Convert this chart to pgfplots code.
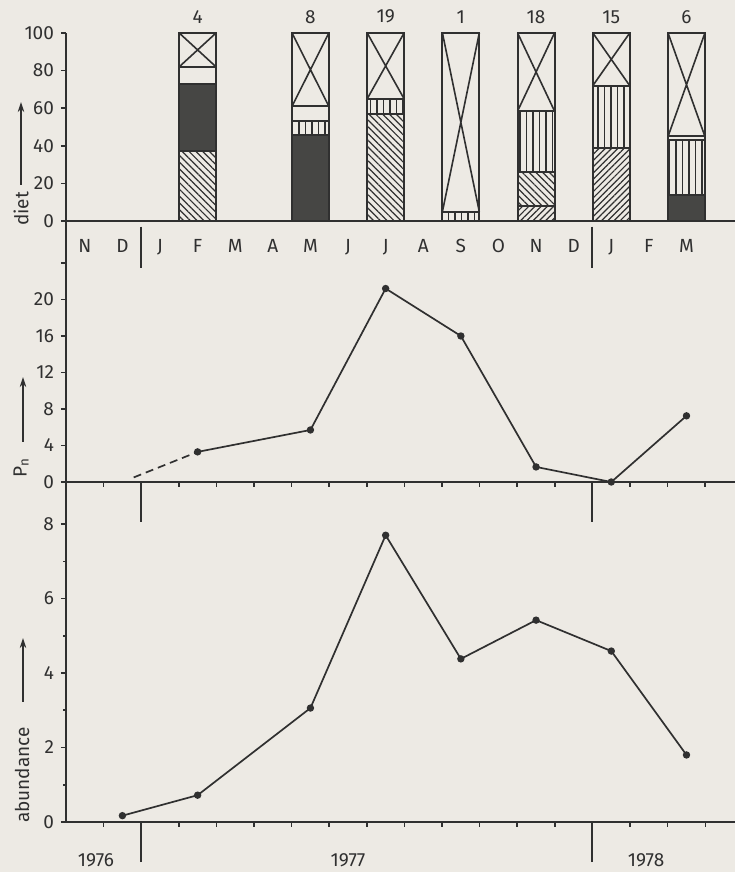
\documentclass[border=0pt]{standalone}
\usepackage{fontspec}
\setmainfont{Fira Sans}
\usepackage{pgfplots}
\usepackage{pgfplotstable}
\pgfplotsset{compat=1.18}
\usetikzlibrary{patterns.meta,arrows.meta}
\definecolor{paper}{RGB}{237,234,228}
\definecolor{ink}{RGB}{48,48,48}
\definecolor{stip}{RGB}{70,70,68}
\newcommand{\fs}{\fontsize{9.5}{11}\selectfont}

% diet composition (segment heights, %), bottom to top; remainder up to 100 = crossed box
\pgfplotstableread{
x  ne  nw  dk  vl    bl  n
3  0   37  36  0     9   4
6  0   0   46  7     8   8
8  0   57  0   8     0   19
10 0   0   0   5     0   1
12 8   18  0   32.5  0   18
14 39  0   0   33    0   15
16 0   0   14  29    2   6
}\diet

\pgfplotsset{
  panel/.style={scale only axis, anchor=south west, width=334.5pt,
    xmin=-0.5, xmax=17.29, axis lines*=left,
    axis line style={ink, line width=1pt},
    every tick/.style={ink, line width=0.8pt},
    tick align=outside, major tick length=2.5pt, minor tick length=1.5pt,
    tick label style={font=\fs, text=ink},
    /pgf/number format/assume math mode=true, clip=false},
  lowpanel/.style={xtick={0.5,1.5,...,16.5}, xticklabels={},
    extra x ticks={1.5,13.5}, extra x tick labels={},
    extra x tick style={major tick length=20pt, tick style={line width=1pt}}},
  seg/.style={ybar, bar width=0.98, bar shift=0pt, draw=ink, line width=1pt, fill=paper},
  curve/.style={ink, line width=0.85pt, mark=*, mark size=1.4pt, mark options={fill=ink, draw=ink, solid}},
}

\begin{document}
\begin{tikzpicture}
\path[fill=paper, use as bounding box] (0,0) rectangle (367.5pt,436pt);

% ---------- diet ----------
\begin{axis}[panel, at={(33pt,325.5pt)}, height=94pt,
  ymin=0, ymax=100, ytick={0,20,...,100},
  xtick={0,...,16}, xticklabels={N,D,J,F,M,A,M,J,J,A,S,O,N,D,J,F,M},
  xtick style={draw=none}, xticklabel style={yshift=-3pt}]
\addplot[seg, nodes near coords, point meta=explicit symbolic,
  every node near coord/.append style={font=\fs, text=ink, yshift=1pt}]
  table[x=x, y expr=100, meta=n] {\diet};
\addplot[seg] table[x=x, y expr=\thisrow{ne}+\thisrow{nw}+\thisrow{dk}+\thisrow{vl}+\thisrow{bl}] {\diet};
\addplot[seg, postaction={pattern={Lines[angle=90,distance=3.25pt,line width=0.6pt]}, pattern color=ink}]
  table[x=x, y expr=\thisrow{ne}+\thisrow{nw}+\thisrow{dk}+\thisrow{vl}] {\diet};
\addplot[seg, fill=stip] table[x=x, y expr=\thisrow{ne}+\thisrow{nw}+\thisrow{dk}] {\diet};
\addplot[seg, postaction={pattern={Lines[angle=-45,distance=2.4pt,line width=0.6pt]}, pattern color=ink}]
  table[x=x, y expr=\thisrow{ne}+\thisrow{nw}] {\diet};
\addplot[seg, postaction={pattern={Lines[angle=45,distance=2.2pt,line width=0.6pt]}, pattern color=ink}]
  table[x=x, y=ne] {\diet};
% diagonals of the crossed boxes
\addplot[sharp plot, ink, line width=0.8pt, no marks, unbounded coords=jump] coordinates {
 (2.51,82) (3.49,100) (0,nan) (2.51,100) (3.49,82) (0,nan)
 (5.51,61) (6.49,100) (0,nan) (5.51,100) (6.49,61) (0,nan)
 (7.51,65) (8.49,100) (0,nan) (7.51,100) (8.49,65) (0,nan)
 (9.51,5) (10.49,100) (0,nan) (9.51,100) (10.49,5) (0,nan)
 (11.51,58.5) (12.49,100) (0,nan) (11.51,100) (12.49,58.5) (0,nan)
 (13.51,72) (14.49,100) (0,nan) (13.51,100) (14.49,72) (0,nan)
 (15.51,45) (16.49,100) (0,nan) (15.51,100) (16.49,45)
};
\draw[ink, line width=1pt] (axis cs:1.5,-3) -- (axis cs:1.5,-25);
\draw[ink, line width=1pt] (axis cs:13.5,-3) -- (axis cs:13.5,-25);
\end{axis}

% ---------- P_n ----------
\begin{axis}[panel, lowpanel, at={(33pt,195pt)}, height=130.5pt,
  ymin=0, ymax=28.6, ytick={0,4,...,24}, yticklabels={0,4,8,12,16,20,{}}]
\addplot[ink, line width=0.85pt, dash pattern=on 4pt off 2.5pt] coordinates {(1.3,0.5) (3,3.3)};
\addplot[curve] coordinates {(3,3.3) (6,5.7) (8,21.2) (10,16) (12,1.65) (14,0) (16,7.25)};
\end{axis}

% ---------- abundance ----------
\begin{axis}[panel, lowpanel, at={(33pt,25pt)}, height=170pt,
  ymin=0, ymax=9.13, ytick={0,2,...,8}, minor ytick={1,3,5,7}]
\addplot[curve] coordinates {(1,0.17) (3,0.72) (6,3.06) (8,7.7) (10,4.38) (12,5.42) (14,4.59) (16,1.8)};
\end{axis}

% axis titles with arrows
\node[rotate=90, font=\fs, text=ink] at (10.5pt,331.5pt) {diet};
\draw[ink, line width=0.8pt, -{Stealth[length=5pt,width=3.2pt]}] (10.5pt,343.5pt) -- (10.5pt,385pt);
\node[rotate=90, font=\fs, text=ink] at (10.5pt,202pt) {P\textsubscript{n}};
\draw[ink, line width=0.8pt, -{Stealth[length=5pt,width=3.2pt]}] (11.5pt,215pt) -- (11.5pt,247.5pt);
\node[rotate=90, font=\fs, text=ink] at (11pt,48.5pt) {abundance};
\draw[ink, line width=0.8pt, -{Stealth[length=5pt,width=3.2pt]}] (11.5pt,85pt) -- (11.5pt,117pt);

% years
\node[font=\fs, text=ink] at (48pt,6pt) {1976};
\node[font=\fs, text=ink] at (174pt,6pt) {1977};
\node[font=\fs, text=ink] at (323pt,6pt) {1978};
\end{tikzpicture}
\end{document}
